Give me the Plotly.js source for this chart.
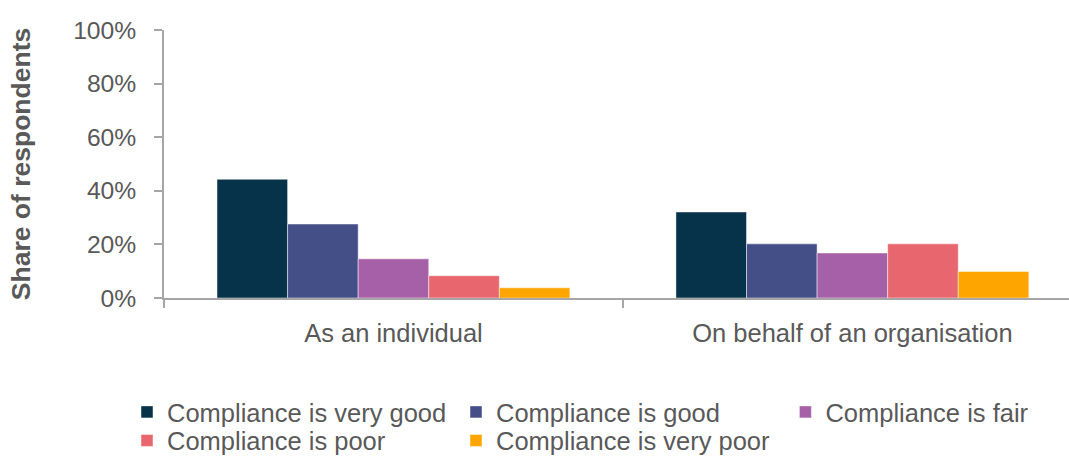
<!DOCTYPE html>
<html>
<head>
<meta charset="utf-8">
<script src="https://cdn.plot.ly/plotly-3.0.1.min.js"></script>
<style>
html,body{margin:0;padding:0;background:#fff;}
#chart{width:1069px;height:457px;}
</style>
</head>
<body>
<div id="chart"></div>
<script>
const categories = ["As an individual", "On behalf of an organisation"];
const seriesNames = ["Compliance is very good", "Compliance is good", "Compliance is fair", "Compliance is poor", "Compliance is very poor"];
const veryGood = [44.3, 32.1];
const good = [27.6, 20.2];
const fair = [14.6, 16.8];
const poor = [8.3, 20.2];
const veryPoor = [3.8, 9.9];
const colors = ["#06334A", "#444F87", "#A660A8", "#E8666E", "#FFA500"];
const yTicks = [0, 20, 40, 60, 80, 100];

const seriesValues = [veryGood, good, fair, poor, veryPoor];
const FONT = '"Liberation Sans", Arial, sans-serif';
const GREY = '#595959';
const AXIS = '#a6a6a6';
const W = 1069, H = 457;

// legend entry anchor (symbol centre) positions in pixels: two rows, three columns
const legendSpots = [[147, 412.3], [476, 412.3], [805.4, 412.3], [147, 440.8], [476, 440.8]];
const legendIds = ['legend', 'legend2', 'legend3', 'legend4', 'legend5'];

const traces = seriesValues.map((vals, i) => ({
  type: 'bar',
  name: seriesNames[i],
  x: categories,
  y: vals,
  legend: legendIds[i],
  marker: {color: colors[i], line: {color: 'rgba(255,255,255,0.6)', width: 0.8}},
  hoverinfo: 'x+y+name'
}));

const layout = {
  width: W,
  height: H,
  margin: {l: 164, r: 0, t: 30, b: 158.5, pad: 0},
  paper_bgcolor: '#fff',
  plot_bgcolor: '#fff',
  font: {family: FONT, color: GREY, size: 25.5},
  barmode: 'group',
  bargap: 0.231,
  bargroupgap: 0,
  showlegend: true,
  xaxis: {
    type: 'category',
    range: [-0.5, 1.472],
    showline: true, linecolor: AXIS, linewidth: 1.5,
    ticks: 'outside', ticklen: 8, tickwidth: 1.5, tickcolor: AXIS,
    tickson: 'boundaries',
    ticklabelstandoff: 12,
    showgrid: false, zeroline: false,
    tickfont: {family: FONT, size: 25.5, color: GREY},
    fixedrange: true
  },
  yaxis: {
    range: [0, 100],
    tickvals: yTicks,
    ticktext: yTicks.map(v => v + '%'),
    showline: true, linecolor: AXIS, linewidth: 1.5,
    ticks: 'outside', ticklen: 8, tickwidth: 1.5, tickcolor: AXIS,
    ticklabelstandoff: 13,
    showgrid: false, zeroline: false,
    tickfont: {family: FONT, size: 24.7, color: GREY},
    title: {text: 'Share of respondents', font: {family: FONT, size: 26.5, color: GREY, weight: 'bold'}, standoff: 35},
    fixedrange: true
  }
};

legendIds.forEach((id, i) => {
  layout[id] = {
    orientation: 'h',
    xref: 'container', yref: 'container',
    x: (legendSpots[i][0] - 20) / W, xanchor: 'left',
    y: 1 - legendSpots[i][1] / H, yanchor: 'middle',
    font: {family: FONT, size: 25.5, color: GREY},
    itemwidth: 30,
    bgcolor: 'rgba(0,0,0,0)',
    borderwidth: 0
  };
});

Plotly.newPlot('chart', traces, layout, {displayModeBar: false});
</script>
</body>
</html>
